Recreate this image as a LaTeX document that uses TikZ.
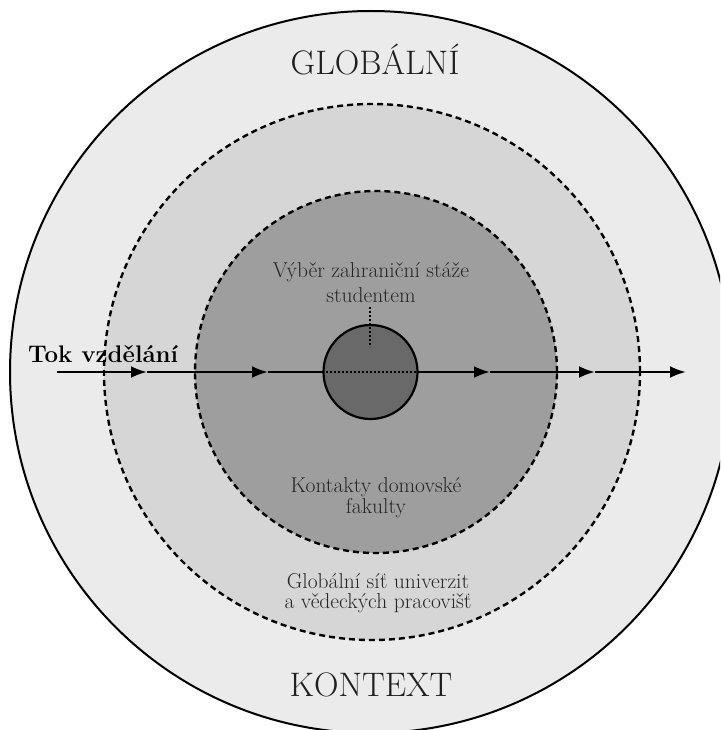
\documentclass[tikz,border=0pt]{standalone}
\usetikzlibrary{arrows.meta}
\definecolor{ringA}{gray}{0.92}
\definecolor{ringB}{gray}{0.84}
\definecolor{ringC}{gray}{0.62}
\definecolor{hubfill}{gray}{0.41}
\definecolor{txtdark}{gray}{0.12}
\definecolor{txtmid}{gray}{0.15}
\begin{document}
\begin{tikzpicture}[x=1pt,y=-1pt,
  zone/.style={circle, inner sep=0pt, draw=black},
  dashring/.style={dash pattern=on 6pt off 4pt, line width=2.4pt},
  flowline/.style={line width=2.4pt},
  flowarrow/.style={line width=2.4pt, -{Latex[length=16pt,width=12pt]}},
  bigtxt/.style={font=\fontsize{34}{40}\selectfont, text=txtdark, anchor=base, inner sep=0pt},
  midtxt/.style={font=\fontsize{21.5}{25}\selectfont, text=txtmid, anchor=base, inner sep=0pt},
  flowtxt/.style={font=\fontsize{24}{28}\selectfont\bfseries, text=black, anchor=base west, inner sep=0pt}
]
\useasboundingbox (0,0) rectangle (720,730);
\clip (0,0) rectangle (720,730);
\fill[white] (0,0) rectangle (720,730);
% rings
\node[zone, fill=ringA, line width=2pt, minimum size=722pt] (outer) at (371,372) {};
\node[zone, fill=ringB, dashring, minimum size=536pt] (mid) at (372,372) {};
\node[zone, fill=ringC, dashring, minimum size=362pt] (inner) at (376,372) {};
% flow
\coordinate (start) at (57,372);
\coordinate (a1) at (147,372);
\coordinate (a2) at (268,372);
\coordinate (a3) at (490,372);
\coordinate (a4) at (595,372);
\coordinate (a5) at (686,372);
\node[zone, fill=hubfill, line width=2.2pt, minimum size=94pt] (hub) at (370.5,372) {};
\draw[flowarrow] (start) -- (a1);
\draw[flowarrow] (a1) -- (a2);
\draw[flowline] (a2) -- (hub.west);
\draw[flowarrow] (hub.east) -- (a3);
\draw[flowarrow] (a3) -- (a4);
\draw[flowarrow] (a4) -- (a5);
\draw[line width=1.3pt, dash pattern=on 1.5pt off 2.5pt] (hub.west) -- (hub.east);
\coordinate (vt) at (370,307);
\coordinate (vb) at (370,347);
\draw[line width=2.4pt, dash pattern=on 2pt off 2pt] (vt) -- (vb);
% texts
\node[bigtxt] (glob) at (375,75) {GLOBÁLNÍ};
\node[bigtxt] (kont) at (371,696) {KONTEXT};
\node[flowtxt] (tok) at (28,362) {Tok vzdělání};
\node[midtxt] (vyb1) at (371,277) {Výběr zahraniční stáže};
\node[midtxt] (vyb2) at (371,302) {studentem};
\node[midtxt] (kon1) at (376,492) {Kontakty domovské};
\node[midtxt] (kon2) at (376,513) {fakulty};
\node[midtxt] (glo1) at (378,588) {Globální síť univerzit};
\node[midtxt] (glo2) at (378,608) {a vědeckých pracovišť};
\end{tikzpicture}
\end{document}
